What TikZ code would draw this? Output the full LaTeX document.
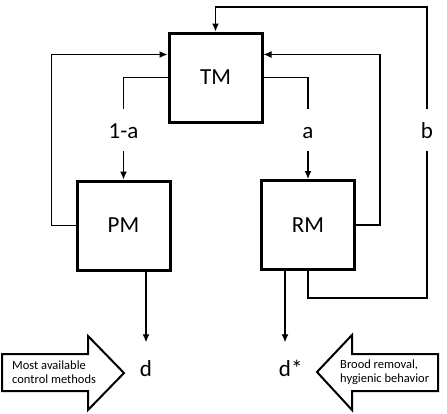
\documentclass[tikz,border=0pt]{standalone}
\usepackage{fontspec}
\setmainfont{Carlito}
\usepackage{tikz}
\usetikzlibrary{arrows.meta, calc}

\begin{document}
\begin{tikzpicture}[x=1pt, y=-1pt,
    mbox/.style={draw, line width=3pt, minimum width=93pt, minimum height=89pt, inner sep=0pt, font=\fontsize{23}{27}\selectfont},
    link/.style={line width=1.2pt},
    flow/.style={line width=1.2pt, -{Latex[length=8pt,width=7pt]}},
    share/.style={font=\fontsize{23}{27}\selectfont, text height=16pt, text depth=0pt, inner xsep=2pt, inner ysep=13pt},
    outcome/.style={font=\fontsize{23}{27}\selectfont, text height=17pt, text depth=0pt, inner xsep=2pt, inner ysep=17pt},
    bigarrow/.style={draw, line width=2pt, line join=miter},
    note/.style={font=\fontsize{12.5}{14.5}\selectfont, align=left, inner sep=0pt}]
            \def\loopw{24}
            \def\drop{27}
            \useasboundingbox (0,0) rectangle (447,413);
            \node[mbox] (TM) at (215.5,77.5) {TM};
            \node[mbox] (PM) at (123.5,225.5) {PM};
            \node[mbox] (RM) at (308,225) {RM};
            \node[share] (la) at (123.5,130) {1-a};
            \node[share] (ra) at (308,130) {a};
            \node[share] (b) at (427,130) {b};
            \node[outcome] (d) at (146,368) {d};
            \node[outcome] (ds) at (285,368) {d\rlap{*}};
            \coordinate (btop) at (427,7);
            \draw[link] (TM.west) -| (la.north);
            \draw[flow] (la.south) -- (PM.north);
            \draw[link] (TM.east) -| (ra.north);
            \draw[flow] (ra.south) -- (RM.north);
            \draw[flow] (PM.west) -- ++(-\loopw,0) |- ($(TM.north west)!0.25!(TM.south west)$);
            \draw[flow] (RM.east) -- ++(\loopw,0) |- ($(TM.north east)!0.25!(TM.south east)$);
            \draw[link] (RM.south) -- ++(0,\drop) -| (b.south);
            \draw[flow] (b.north) -- (btop) -| (TM.north);
            \draw[flow] (PM.south -| d) -- (d.north);
            \draw[flow] (RM.south -| ds) -- (ds.north);
            \draw[bigarrow] (2,354) -- (88,354) -- (88,336) -- (124,373) -- (88,410) -- (88,391) -- (2,391) -- cycle;
            \node[note, anchor=west] (lnote) at (12,372) {Most available\\control methods};
            \draw[bigarrow] (438,354) -- (352,354) -- (352,335) -- (317,372) -- (352,410) -- (352,391) -- (438,391) -- cycle;
            \node[note, anchor=west] (rnote) at (340,372) {Brood removal,\\hygienic behavior};
\end{tikzpicture}
\end{document}
